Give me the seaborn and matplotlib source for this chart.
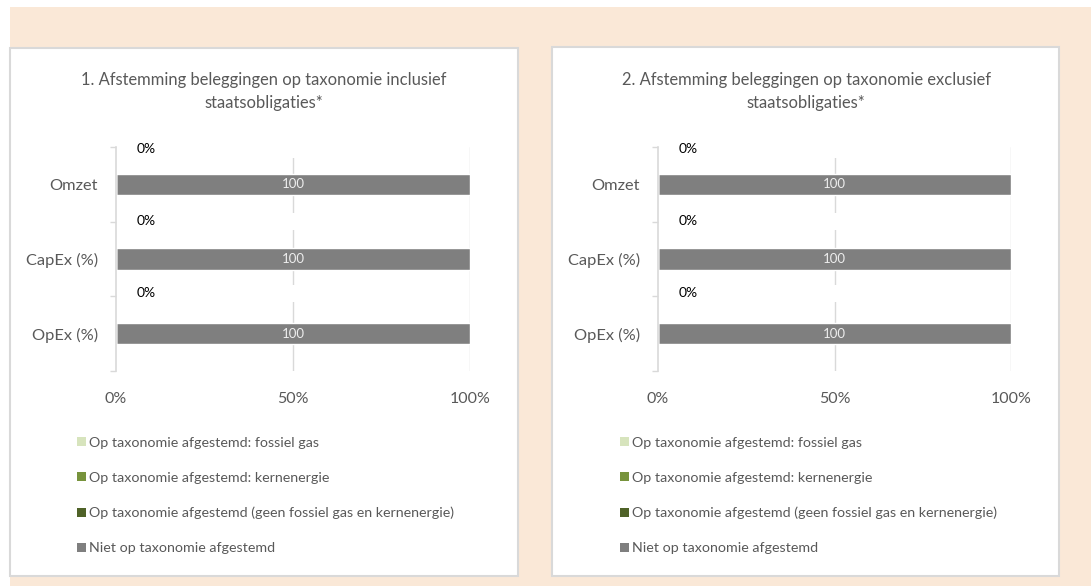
import matplotlib
matplotlib.use("Agg")
import matplotlib.pyplot as plt
from matplotlib.patches import Rectangle, Patch
import seaborn as sns
import pandas as pd
import numpy as np

# ---- data ----
categories = ["Omzet", "CapEx (%)", "OpEx (%)"]
series_names = [
    "Op taxonomie afgestemd: fossiel gas",
    "Op taxonomie afgestemd: kernenergie",
    "Op taxonomie afgestemd (geen fossiel gas en kernenergie)",
    "Niet op taxonomie afgestemd",
]
series_colors = ["#D7E4BD", "#77933C", "#4F6228", "#7F7F7F"]

incl_fossil_gas = [0, 0, 0]
incl_nuclear = [0, 0, 0]
incl_other_aligned = [0, 0, 0]
incl_not_aligned = [100, 100, 100]

excl_fossil_gas = [0, 0, 0]
excl_nuclear = [0, 0, 0]
excl_other_aligned = [0, 0, 0]
excl_not_aligned = [100, 100, 100]

titles = [
    ["1. Afstemming beleggingen op taxonomie inclusief", "staatsobligaties*"],
    ["2. Afstemming beleggingen op taxonomie exclusief", "staatsobligaties*"],
]
x_ticks = [0, 50, 100]
x_tick_labels = ["0%", "50%", "100%"]

# ---- style ----
sns.set_theme(style="white")
plt.rcParams["font.family"] = ["Lato", "DejaVu Sans"]
TEXT = "#595959"
GRID = "#D9D9D9"

W, H = 1091, 586
fig = plt.figure(figsize=(W / 100, H / 100), dpi=100)
fig.patch.set_facecolor("white")


def fx(px):
    return px / W


def fy(py):
    return 1 - py / H


# beige page background
fig.patches.append(Rectangle((fx(10), 0), 1 - fx(10), fy(7), transform=fig.transFigure,
                             facecolor="#FAE8D7", edgecolor="none", zorder=-3))

panels = [
    dict(box=(10, 48, 518, 576), ax=(116, 147, 470, 371), title_x=264, legend_x=77,
         values=[incl_fossil_gas, incl_nuclear, incl_other_aligned, incl_not_aligned]),
    dict(box=(552, 47, 1059, 576), ax=(658, 147, 1011, 371), title_x=806, legend_x=620,
         values=[excl_fossil_gas, excl_nuclear, excl_other_aligned, excl_not_aligned]),
]

for p, title in zip(panels, titles):
    x0, y0, x1, y1 = p["box"]
    fig.patches.append(Rectangle((fx(x0), fy(y1)), fx(x1 - x0), (y1 - y0) / H,
                                 transform=fig.transFigure, facecolor="white",
                                 edgecolor="#D9D9D9", linewidth=1.5, zorder=-2))
    fig.text(fx(p["title_x"]), fy(80), title[0], ha="center", va="center",
             fontsize=11.9, color=TEXT)
    fig.text(fx(p["title_x"]), fy(103), title[1], ha="center", va="center",
             fontsize=11.9, color=TEXT)

    ax0, ay0, ax1, ay1 = p["ax"]
    ax = fig.add_axes([fx(ax0), fy(ay1), fx(ax1 - ax0), (ay1 - ay0) / H])
    ax.set_facecolor("none")

    vals = p["values"]
    df = pd.DataFrame({"category": categories})
    cum = np.zeros(len(categories))
    cums = []
    for v in vals:
        cum = cum + np.array(v, dtype=float)
        cums.append(cum.copy())
    # stacked bars: draw totals first, then shorter partial sums on top
    for i in range(len(vals) - 1, -1, -1):
        d = df.copy()
        d["value"] = cums[i]
        sns.barplot(data=d, y="category", x="value", orient="h", color=series_colors[i],
                    width=0.29, saturation=1, ax=ax, zorder=3)

    ax.set_xlim(0, 100)
    ax.set_ylim(len(categories) - 0.5, -0.5)
    ax.set_xlabel("")
    ax.set_ylabel("")

    # gridlines
    for xv in x_ticks[1:]:
        ax.axvline(xv, color=GRID, linewidth=1, zorder=1)

    for s in ["top", "right", "bottom"]:
        ax.spines[s].set_visible(False)
    ax.spines["left"].set_color(GRID)
    ax.spines["left"].set_linewidth(1.2)
    ax.spines["left"].set_zorder(4)

    ax.set_xticks(x_ticks)
    ax.set_xticklabels(x_tick_labels)
    ax.tick_params(axis="x", length=0, pad=15, labelsize=11.5, labelcolor=TEXT)
    ax.set_yticks(range(len(categories)))
    ax.set_yticklabels(categories)
    ax.tick_params(axis="y", which="major", length=0, pad=13, labelsize=11.8, labelcolor=TEXT)
    ax.set_yticks(np.arange(-0.5, len(categories)), minor=True)
    ax.tick_params(axis="y", which="minor", length=4.5, width=1, color=GRID, direction="out", left=True)

    # value labels
    aligned = np.array(vals[0]) + np.array(vals[1]) + np.array(vals[2])
    for i, (a, n) in enumerate(zip(aligned, vals[3])):
        ax.text(a + n / 2, i, f"{n:.0f}", ha="center", va="center", fontsize=9.5,
                color="#EDEDED", zorder=5)
        label_y = i - 0.47 - 0.035 * i
        ax.text(8.5, label_y, f"{a:.0f}%", ha="center", va="center", fontsize=10,
                color="black", zorder=5)
        # hidden label of the aligned series sits on the mid gridline
        ax.text(50, label_y, "   ", ha="center", va="center", fontsize=9, zorder=2,
                bbox=dict(facecolor="white", edgecolor="none", pad=2))

    handles = [Patch(facecolor=c, edgecolor="none") for c in series_colors]
    fig.legend(handles, series_names, loc="upper left",
               bbox_to_anchor=(fx(p["legend_x"]), fy(437)), frameon=False,
               fontsize=10.3, labelcolor=TEXT, handlelength=0.6, handleheight=0.6,
               handletextpad=0.25, labelspacing=1.6, borderpad=0, borderaxespad=0)

fig.savefig("out.png", dpi=100, facecolor=fig.get_facecolor())
